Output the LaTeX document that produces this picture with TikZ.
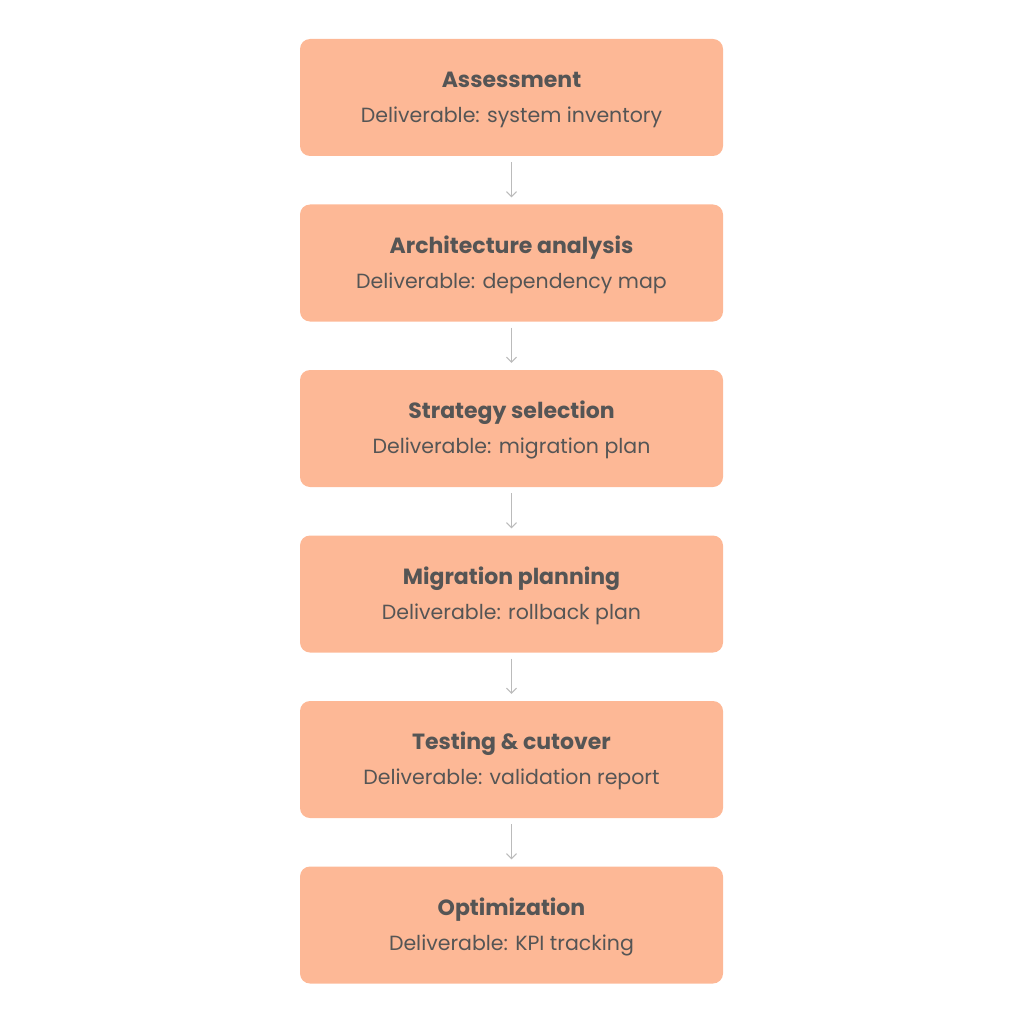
\documentclass[tikz,border=0pt]{standalone}
\usepackage{fontspec}
\setmainfont{Poppins}
\usetikzlibrary{arrows.meta}
\definecolor{boxfill}{HTML}{FDB896}
\definecolor{txt}{HTML}{555555}
\definecolor{arr}{HTML}{BBBBBB}
\tikzset{
  stepbox/.style={fill=boxfill, draw=none, rounded corners=10pt, minimum width=423pt, minimum height=117pt, inner sep=0pt},
  ttl/.style={text=txt, font=\fontsize{22}{26}\selectfont\bfseries, anchor=base},
  sub/.style={text=txt, font=\fontsize{20.5}{24}\selectfont, anchor=base},
  conn/.style={draw=arr, line width=1pt, -{Straight Barb[length=5pt,width=10pt]}}
}
\begin{document}
\begin{tikzpicture}[x=1pt,y=-1pt]
\useasboundingbox (0,0) rectangle (1024,1024);
\foreach \i/\y/\t/\s in {1/97.5/Assessment/system inventory,
  2/263/Architecture analysis/dependency map,
  3/428.5/Strategy selection/migration plan,
  4/594/Migration planning/rollback plan,
  5/759.5/Testing \& cutover/validation report,
  6/925/Optimization/KPI tracking}{
  \node[stepbox] (b\i) at (511.5,\y) {};
  \node[ttl] (t\i) at (511.5,\y-10) {\t};
  \node[sub] (s\i) at (511.5,\y+25) {Deliverable: \s};
}
\foreach \a/\b in {1/2,2/3,3/4,4/5,5/6}{
  \draw[conn] ([yshift=-6pt]b\a.south) -- ([yshift=7pt]b\b.north);
}
\end{tikzpicture}
\end{document}
